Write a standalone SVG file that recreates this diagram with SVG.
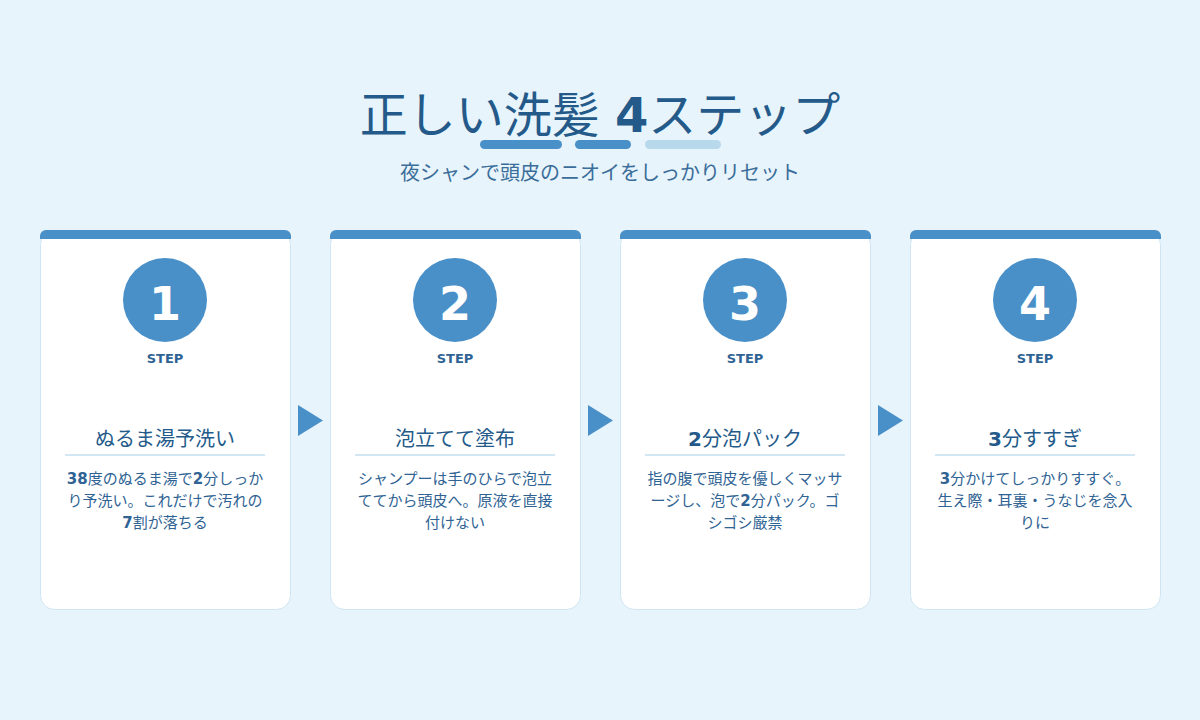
<svg xmlns="http://www.w3.org/2000/svg" width="1200" height="720" viewBox="0 0 1200 720">
<style>
text{font-family:"DejaVu Sans","Noto Sans CJK JP",sans-serif;text-anchor:middle}
.card{fill:#fff;stroke:#cfe5f3;stroke-width:1}
.bar{fill:#4a90c8}
.num{fill:#fff;font-size:46px;font-weight:bold}
.step{fill:#2f6394;font-size:13px;font-weight:bold}
.h{fill:#245a8a;font-size:20px}
.d{fill:#2f6394;font-size:15px}
.ul{stroke:#d3e6f3;stroke-width:2}
.arr{fill:#4a90c8}
</style>
<rect width="1200" height="720" fill="#e8f4fb"/>
<g id="title">
<text x="600" y="132" font-size="48" fill="#245a8a">正しい洗髪 <tspan font-weight="bold">4</tspan>ステップ</text>
<rect x="480" y="140" width="82" height="9" rx="4.5" fill="#4a90c8"/>
<rect x="575" y="140" width="56" height="9" rx="4.5" fill="#4a90c8"/>
<rect x="645" y="140" width="76" height="9" rx="4.5" fill="#b8d8ec"/>
<text x="600" y="180" font-size="20" fill="#3a6d99">夜シャンで頭皮のニオイをしっかりリセット</text>
</g>
<g id="step1">
<rect class="card" x="40.5" y="230.5" width="250" height="379" rx="14"/>
<path class="bar" d="M40 239V236a6 6 0 0 1 6-6h239a6 6 0 0 1 6 6v3z"/>
<circle cx="165" cy="300" r="42" fill="#4a90c8"/>
<text class="num" x="165" y="320">1</text>
<text class="step" x="165" y="363">STEP</text>
<text class="h" x="165" y="446">ぬるま湯予洗い</text>
<line class="ul" x1="65" y1="455" x2="265" y2="455"/>
<text class="d" x="165" y="484"><tspan font-weight="bold">38</tspan>度のぬるま湯で<tspan font-weight="bold">2</tspan>分しっか</text>
<text class="d" x="165" y="506">り予洗い。これだけで汚れの</text>
<text class="d" x="165" y="528"><tspan font-weight="bold">7</tspan>割が落ちる</text>
</g>
<g id="step2">
<rect class="card" x="330.5" y="230.5" width="250" height="379" rx="14"/>
<path class="bar" d="M330 239V236a6 6 0 0 1 6-6h239a6 6 0 0 1 6 6v3z"/>
<circle cx="455" cy="300" r="42" fill="#4a90c8"/>
<text class="num" x="455" y="320">2</text>
<text class="step" x="455" y="363">STEP</text>
<text class="h" x="455" y="446">泡立てて塗布</text>
<line class="ul" x1="355" y1="455" x2="555" y2="455"/>
<text class="d" x="455" y="484">シャンプーは手のひらで泡立</text>
<text class="d" x="455" y="506">ててから頭皮へ。原液を直接</text>
<text class="d" x="455" y="528">付けない</text>
</g>
<g id="step3">
<rect class="card" x="620.5" y="230.5" width="250" height="379" rx="14"/>
<path class="bar" d="M620 239V236a6 6 0 0 1 6-6h239a6 6 0 0 1 6 6v3z"/>
<circle cx="745" cy="300" r="42" fill="#4a90c8"/>
<text class="num" x="745" y="320">3</text>
<text class="step" x="745" y="363">STEP</text>
<text class="h" x="745" y="446"><tspan font-weight="bold">2</tspan>分泡パック</text>
<line class="ul" x1="645" y1="455" x2="845" y2="455"/>
<text class="d" x="745" y="484">指の腹で頭皮を優しくマッサ</text>
<text class="d" x="745" y="506">ージし、泡で<tspan font-weight="bold">2</tspan>分パック。ゴ</text>
<text class="d" x="745" y="528">シゴシ厳禁</text>
</g>
<g id="step4">
<rect class="card" x="910.5" y="230.5" width="250" height="379" rx="14"/>
<path class="bar" d="M910 239V236a6 6 0 0 1 6-6h239a6 6 0 0 1 6 6v3z"/>
<circle cx="1035" cy="300" r="42" fill="#4a90c8"/>
<text class="num" x="1035" y="320">4</text>
<text class="step" x="1035" y="363">STEP</text>
<text class="h" x="1035" y="446"><tspan font-weight="bold">3</tspan>分すすぎ</text>
<line class="ul" x1="935" y1="455" x2="1135" y2="455"/>
<text class="d" x="1035" y="484"><tspan font-weight="bold">3</tspan>分かけてしっかりすすぐ。</text>
<text class="d" x="1035" y="506">生え際・耳裏・うなじを念入</text>
<text class="d" x="1035" y="528">りに</text>
</g>
<g id="connectors">
<polygon class="arr" points="298,405 323,420.5 298,436"/>
<polygon class="arr" points="588,405 613,420.5 588,436"/>
<polygon class="arr" points="878,405 903,420.5 878,436"/>
</g>
</svg>
